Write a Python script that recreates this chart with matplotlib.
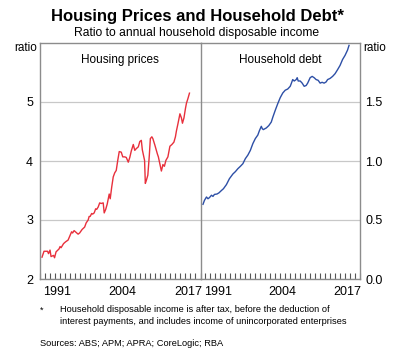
import matplotlib
matplotlib.use("Agg")
import matplotlib.pyplot as plt
import numpy as np

plt.rcParams['font.family'] = ['Liberation Sans', 'DejaVu Sans']

# Housing prices to income (ratio)
hp_year = [1988.4, 1988.8, 1989.5, 1989.7, 1990.0, 1990.2, 1990.7, 1990.9, 1991.2, 1991.8,
           1992.0, 1992.2, 1992.7, 1993.1, 1993.6, 1994.0, 1994.3, 1994.5, 1994.8, 1995.2,
           1995.6, 1995.9, 1996.4, 1996.9, 1997.2, 1997.6, 1997.8, 1998.0, 1998.3, 1998.5,
           1998.8, 1999.1, 1999.3, 1999.6, 1999.9, 2000.2, 2000.6, 2000.8, 2001.1, 2001.4,
           2001.8, 2002.0, 2002.3, 2002.6, 2002.9, 2003.2, 2003.5, 2003.8, 2004.2, 2004.5,
           2004.9, 2005.2, 2005.6, 2005.9, 2006.2, 2006.6, 2006.9, 2007.2, 2007.6, 2007.9,
           2008.2, 2008.4, 2008.7, 2008.85, 2009.0, 2009.2, 2009.5, 2009.8, 2010.0, 2010.3,
           2010.5, 2010.9, 2011.4, 2011.6, 2011.9, 2012.2, 2012.4, 2012.5, 2012.8, 2013.1,
           2013.5, 2013.9, 2014.3, 2014.7, 2015.0, 2015.2, 2015.5, 2015.9, 2016.2, 2016.4,
           2016.7, 2017.0, 2017.2, 2017.5, 2017.8]
hp_ratio = [2.37, 2.47, 2.47, 2.43, 2.49, 2.38, 2.40, 2.36, 2.46, 2.51,
            2.55, 2.53, 2.60, 2.63, 2.66, 2.74, 2.80, 2.78, 2.82, 2.79,
            2.76, 2.78, 2.84, 2.88, 2.95, 3.00, 3.06, 3.06, 3.11, 3.10,
            3.12, 3.19, 3.18, 3.22, 3.29, 3.28, 3.29, 3.12, 3.18, 3.27,
            3.44, 3.36, 3.56, 3.73, 3.80, 3.84, 4.01, 4.16, 4.15, 4.07,
            4.07, 4.06, 3.98, 4.06, 4.17, 4.28, 4.18, 4.21, 4.24, 4.33,
            4.35, 4.19, 4.07, 4.01, 3.62, 3.67, 3.76, 4.10, 4.38, 4.41,
            4.38, 4.27, 4.12, 4.07, 3.95, 3.83, 3.90, 3.94, 3.91, 4.01,
            4.07, 4.25, 4.28, 4.32, 4.41, 4.51, 4.63, 4.80, 4.73, 4.64,
            4.73, 4.89, 4.98, 5.06, 5.15]

# Household debt to income (ratio)
hd_year = [1988.5, 1988.8, 1989.2, 1989.5, 1989.8, 1990.2, 1990.5, 1990.8, 1991.3, 1991.7,
           1992.2, 1992.6, 1993.2, 1993.8, 1994.5, 1995.0, 1995.5, 1996.0, 1996.5, 1997.0,
           1997.5, 1998.0, 1998.5, 1999.0, 1999.5, 1999.8, 2000.2, 2000.4, 2000.6, 2001.2,
           2001.7, 2002.2, 2002.5, 2003.0, 2003.5, 2004.0, 2004.5, 2005.0, 2005.5, 2006.0,
           2006.2, 2006.5, 2006.8, 2007.2, 2007.4, 2007.6, 2008.0, 2008.4, 2008.8, 2009.2,
           2009.5, 2010.0, 2010.4, 2010.8, 2011.2, 2011.6, 2012.0, 2012.4, 2012.8, 2013.2,
           2013.5, 2014.0, 2014.5, 2015.0, 2015.5, 2016.0, 2016.5, 2017.0, 2017.5, 2017.8]
hd_ratio = [0.633, 0.667, 0.695, 0.68, 0.69, 0.71, 0.70, 0.717, 0.72, 0.73,
            0.75, 0.765, 0.80, 0.85, 0.89, 0.91, 0.935, 0.955, 0.977, 1.02,
            1.05, 1.09, 1.147, 1.19, 1.22, 1.255, 1.294, 1.274, 1.266, 1.28,
            1.30, 1.33, 1.37, 1.43, 1.486, 1.537, 1.576, 1.60, 1.61, 1.633,
            1.655, 1.69, 1.678, 1.69, 1.706, 1.678, 1.678, 1.66, 1.633, 1.64,
            1.66, 1.706, 1.717, 1.706, 1.69, 1.684, 1.66, 1.667, 1.66, 1.67,
            1.69, 1.70, 1.717, 1.74, 1.774, 1.81, 1.86, 1.895, 1.94, 1.98]

year_labels = ['1991', '2004', '2017']
left_ticks = [2, 3, 4, 5]
right_ticks = [0.0, 0.5, 1.0, 1.5]

red = '#e8303c'
blue = '#2d4fa6'
frame = '#8c8c8c'
grid = '#c8c8c8'

W, H = 394, 363
fig = plt.figure(figsize=(W / 100, H / 100), dpi=100)

def box(x0, y0, x1, y1):
    return [x0 / W, 1 - y1 / H, (x1 - x0) / W, (y1 - y0) / H]

axl = fig.add_axes(box(40, 43, 200.5, 279))
axr = fig.add_axes(box(200.5, 43, 360, 279))

for ax in (axl, axr):
    ax.set_xlim(1988, 2020)
    ax.set_xticks([float(y) + 0.5 for y in year_labels])
    ax.set_xticklabels(year_labels, fontsize=9)
    ax.set_xticks(np.arange(1988, 2021), minor=True)
    ax.tick_params(axis='x', which='major', length=0, pad=5)
    ax.tick_params(axis='x', which='minor', direction='in', length=4, color='#555555', width=0.8)
    for s in ax.spines.values():
        s.set_color(frame)
        s.set_linewidth(1.0)
    ax.set_axisbelow(True)
    ax.grid(axis='y', color=grid, linewidth=0.9)

axl.set_ylim(2, 6)
axl.set_yticks(left_ticks)
axl.set_yticklabels([str(v) for v in left_ticks], fontsize=9)
axl.tick_params(axis='y', length=0, pad=5)
axl.spines['right'].set_visible(False)
axl.plot(hp_year, hp_ratio, color=red, linewidth=1.0)
axl.text(0.5, 0.955, 'Housing prices', transform=axl.transAxes, ha='center', va='top', fontsize=8.5)

axr.set_ylim(0, 2)
axr.set_yticks(right_ticks)
axr.set_yticklabels(['%.1f' % v for v in right_ticks], fontsize=9)
axr.yaxis.tick_right()
axr.tick_params(axis='y', length=0, pad=4)
axr.plot(hd_year, hd_ratio, color=blue, linewidth=1.0)
axr.text(0.5, 0.955, 'Household debt', transform=axr.transAxes, ha='center', va='top', fontsize=8.5)

fig.text(37 / W, 1 - 48 / H, 'ratio', ha='right', va='center', fontsize=8.5)
fig.text(363 / W, 1 - 48 / H, 'ratio', ha='left', va='center', fontsize=8.5)

fig.text(0.5, 1 - 16 / H, 'Housing Prices and Household Debt*', ha='center', va='center',
         fontsize=12, fontweight='bold')
fig.text(0.5, 1 - 33 / H, 'Ratio to annual household disposable income', ha='center',
         va='center', fontsize=8.7)

fig.text(40 / W, 1 - 310 / H, '*', ha='left', va='center', fontsize=6.7)
fig.text(60 / W, 1 - 310 / H, 'Household disposable income is after tax, before the deduction of',
         ha='left', va='center', fontsize=6.7)
fig.text(60 / W, 1 - 322 / H, 'interest payments, and includes income of unincorporated enterprises',
         ha='left', va='center', fontsize=6.7)
fig.text(40 / W, 1 - 344 / H, 'Sources: ABS; APM; APRA; CoreLogic; RBA', ha='left', va='center',
         fontsize=6.7)

fig.savefig('out.png', dpi=100)
